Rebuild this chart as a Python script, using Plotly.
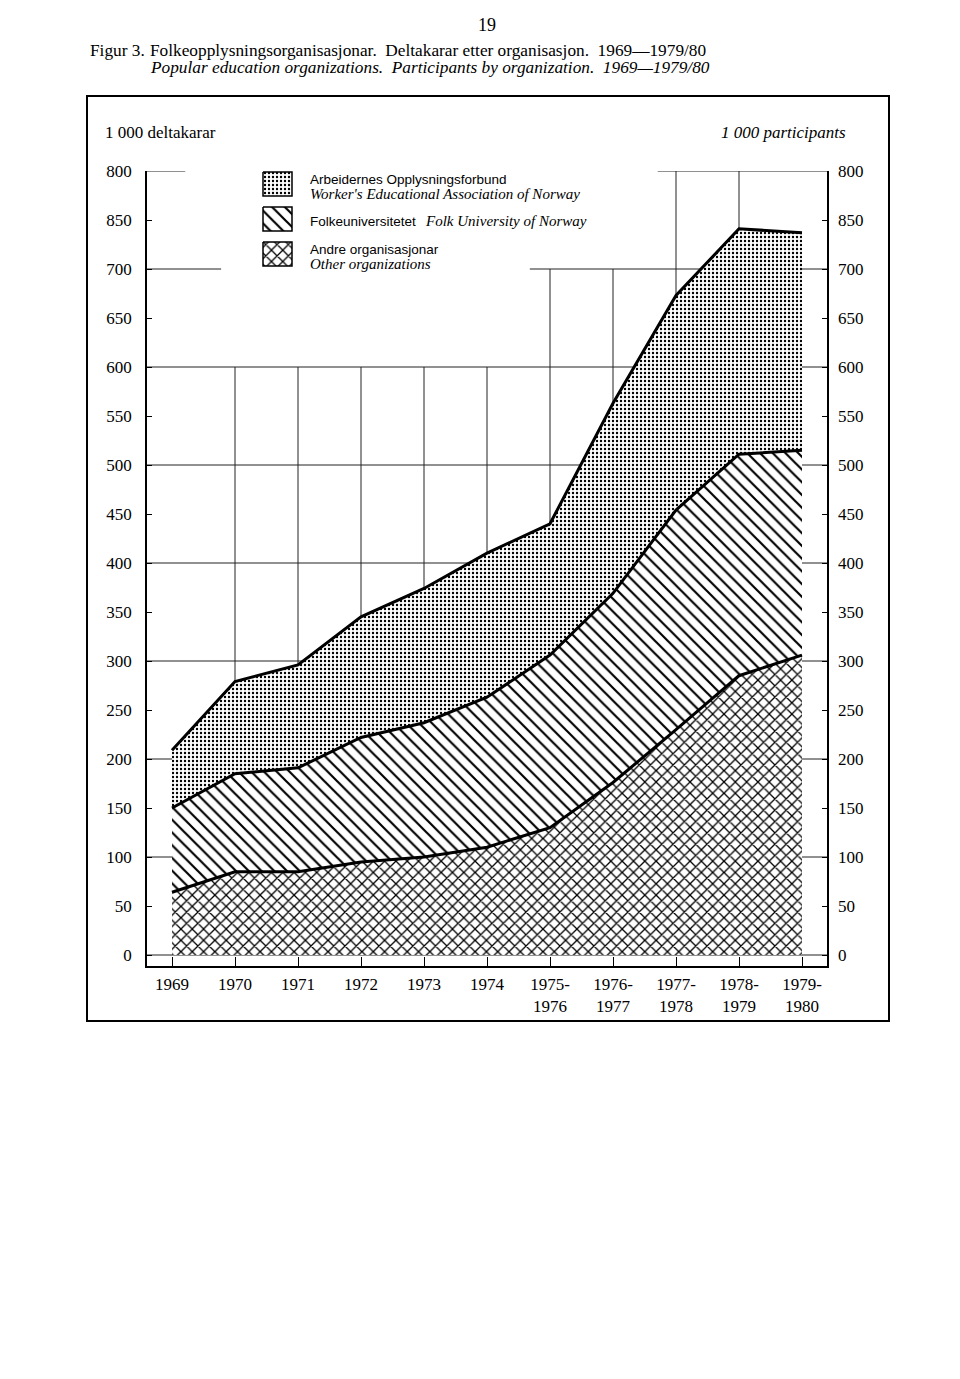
import plotly.graph_objects as go

# ---------------- data ----------------
x_labels = ["1969", "1970", "1971", "1972", "1973", "1974",
            "1975-<br>1976", "1976-<br>1977", "1977-<br>1978",
            "1978-<br>1979", "1979-<br>1980"]
other_orgs = [64, 85, 85, 95, 100, 110, 130, 176, 230, 285, 306]
folk_univ = [86, 100, 106, 127, 137, 153, 176, 193, 224, 226, 209]
aof = [59, 94, 105, 123, 137, 147, 134, 194, 219, 230, 222]
y_tick_vals = [0, 50, 100, 150, 200, 250, 300, 350, 400, 450, 500,
               550, 600, 650, 700, 750, 800]
y_tick_text = ["0", "50", "100", "150", "200", "250", "300", "350", "400",
               "450", "500", "550", "600", "650", "700", "850", "800"]
x_idx = list(range(len(x_labels)))

# ---------------- geometry (pixels) ----------------
W, H = 960, 1379
PL, PR, PT, PB = 147, 827, 171, 966     # plot area edges
X0PX, DXPX = 172, 63                     # first category px, spacing
Y0PX, YSCALE = 955, 0.98                 # px of value 0, px per unit

x_range = [-(X0PX - PL) / DXPX, (len(x_idx) - 1) + (PR - (X0PX + DXPX * (len(x_idx) - 1))) / DXPX]
y_range = [-(PB - Y0PX) / YSCALE, 800]

SERIF = "Liberation Serif"
SANS = "Liberation Sans"


def px_x(px):
    return (px - PL) / (PR - PL)


def px_y(py):
    return (PB - py) / (PB - PT)


fig = go.Figure()

series = [
    ("Andre organisasjonar", other_orgs, dict(shape="x", size=8, solidity=0.3)),
    ("Folkeuniversitetet", folk_univ, dict(shape="\\", size=9, solidity=0.24)),
    ("Arbeidernes Opplysningsforbund", aof, dict(shape=".", size=4, solidity=0.28)),
]
for name, vals, pat in series:
    fig.add_trace(go.Scatter(
        x=x_idx, y=vals, name=name, stackgroup="one",
        mode="lines", line=dict(color="black", width=3),
        fillpattern=dict(fgcolor="black", bgcolor="white", fillmode="replace", **pat),
        hoverinfo="skip", showlegend=False,
    ))

# dummy trace for right-hand label axis
fig.add_trace(go.Scatter(x=x_idx, y=other_orgs, yaxis="y2", mode="none",
                         hoverinfo="skip", showlegend=False))

# ---------------- gridlines (below traces) ----------------
shapes = []
gl = dict(color="#222", width=1)
for lvl in [0, 100, 200, 300, 400, 500, 600]:
    shapes.append(dict(type="line", xref="x", yref="y", x0=x_range[0], x1=x_range[1],
                       y0=lvl, y1=lvl, line=gl, layer="below"))
for lvl, segs in [(700, [(x_range[0], 0.78), (5.68, x_range[1])]),
                  (800, [(x_range[0], 0.21), (7.71, x_range[1])])]:
    for a, b in segs:
        shapes.append(dict(type="line", xref="x", yref="y", x0=a, x1=b,
                           y0=lvl, y1=lvl, line=gl, layer="below"))
for i in x_idx[1:-1]:
    top = 600 if i <= 5 else (700 if i <= 7 else 800)
    shapes.append(dict(type="line", xref="x", yref="y", x0=i, x1=i,
                       y0=0, y1=top, line=gl, layer="below"))

# outer frame
shapes.append(dict(type="rect", xref="paper", yref="paper",
                   x0=px_x(87), x1=px_x(889), y0=px_y(1021), y1=px_y(96),
                   line=dict(color="black", width=2), layer="above"))

# ---------------- legend swatches (overlay pixel axes) ----------------
sw_x0, sw_x1 = 263, 292
sw_rows = [(172, 196), (207, 231), (242, 266)]
sw_pats = [series[2][2], series[1][2], series[0][2]]
for (y0, y1), pat in zip(sw_rows, sw_pats):
    fig.add_trace(go.Scatter(
        x=[sw_x0, sw_x1, sw_x1, sw_x0, sw_x0], y=[y0, y0, y1, y1, y0],
        xaxis="x3", yaxis="y3", mode="lines", fill="toself",
        line=dict(color="black", width=1.5),
        fillpattern=dict(fgcolor="black", bgcolor="white", fillmode="replace", **pat),
        hoverinfo="skip", showlegend=False,
    ))

# ---------------- annotations ----------------
ann = []


def text(s, px, py, size, family, xanchor="left", italic=False):
    if italic:
        s = "<i>" + s + "</i>"
    ann.append(dict(text=s, x=px_x(px), y=px_y(py), xref="paper", yref="paper",
                    xanchor=xanchor, yanchor="middle", showarrow=False,
                    font=dict(size=size, family=family, color="black")))


SP = "\u00a0\u00a0"
text("19", 487, 25, 18, SERIF, xanchor="center")
text("Figur 3.", 88, 50, 17.3, SERIF)
text("Folkeopplysningsorganisasjonar." + SP + "Deltakarar etter organisasjon." + SP + "1969\u20141979/80", 148, 50, 17.3, SERIF)
text("Popular education organizations." + SP + "Participants by organization." + SP + "1969\u20141979/80", 148, 67, 17.3, SERIF, italic=True)
text("1 000 deltakarar", 103, 132, 17, SERIF)
text("1 000 participants", 848, 132, 17, SERIF, xanchor="right", italic=True)

text("Arbeidernes Opplysningsforbund", 308, 179, 13.5, SANS)
text("Worker's Educational Association of Norway", 308, 194, 15, SERIF, italic=True)
text("Folkeuniversitetet", 308, 221, 13.5, SANS)
text("Folk University of Norway", 423, 221, 15, SERIF, italic=True)
text("Andre organisasjonar", 308, 249, 13.5, SANS)
text("Other organizations", 308, 264, 15, SERIF, italic=True)

tickfont = dict(size=17, family=SERIF, color="black")

fig.update_layout(
    width=W, height=H,
    margin=dict(l=PL, r=W - PR, t=PT, b=H - PB, pad=0),
    paper_bgcolor="white", plot_bgcolor="rgba(0,0,0,0)",
    showlegend=False,
    shapes=shapes, annotations=ann,
    xaxis=dict(range=x_range, tickvals=x_idx, ticktext=x_labels,
               ticks="inside", ticklen=9, tickwidth=1.2, tickcolor="black",
               showline=True, linecolor="black", linewidth=1.5,
               showgrid=False, zeroline=False, tickfont=tickfont,
               ticklabelstandoff=2, fixedrange=True),
    yaxis=dict(range=y_range, tickvals=y_tick_vals, ticktext=y_tick_text,
               ticks="inside", ticklen=5, tickwidth=1.2, tickcolor="black",
               showline=True, linecolor="black", linewidth=1.5, mirror="ticks",
               showgrid=False, zeroline=False, tickfont=tickfont,
               ticklabelstandoff=10, fixedrange=True),
    yaxis2=dict(range=y_range, overlaying="y", side="right", anchor="x",
                tickvals=y_tick_vals, ticktext=y_tick_text, ticks="",
                showline=False, showgrid=False, zeroline=False,
                tickfont=tickfont, ticklabelstandoff=10, fixedrange=True),
    xaxis3=dict(range=[PL, PR], overlaying="x", visible=False, fixedrange=True),
    yaxis3=dict(range=[PB, PT], overlaying="y", anchor="x3", visible=False, fixedrange=True),
)

fig.write_html("out.html", config={"displayModeBar": False},
               post_script="document.body.style.margin='0';")
